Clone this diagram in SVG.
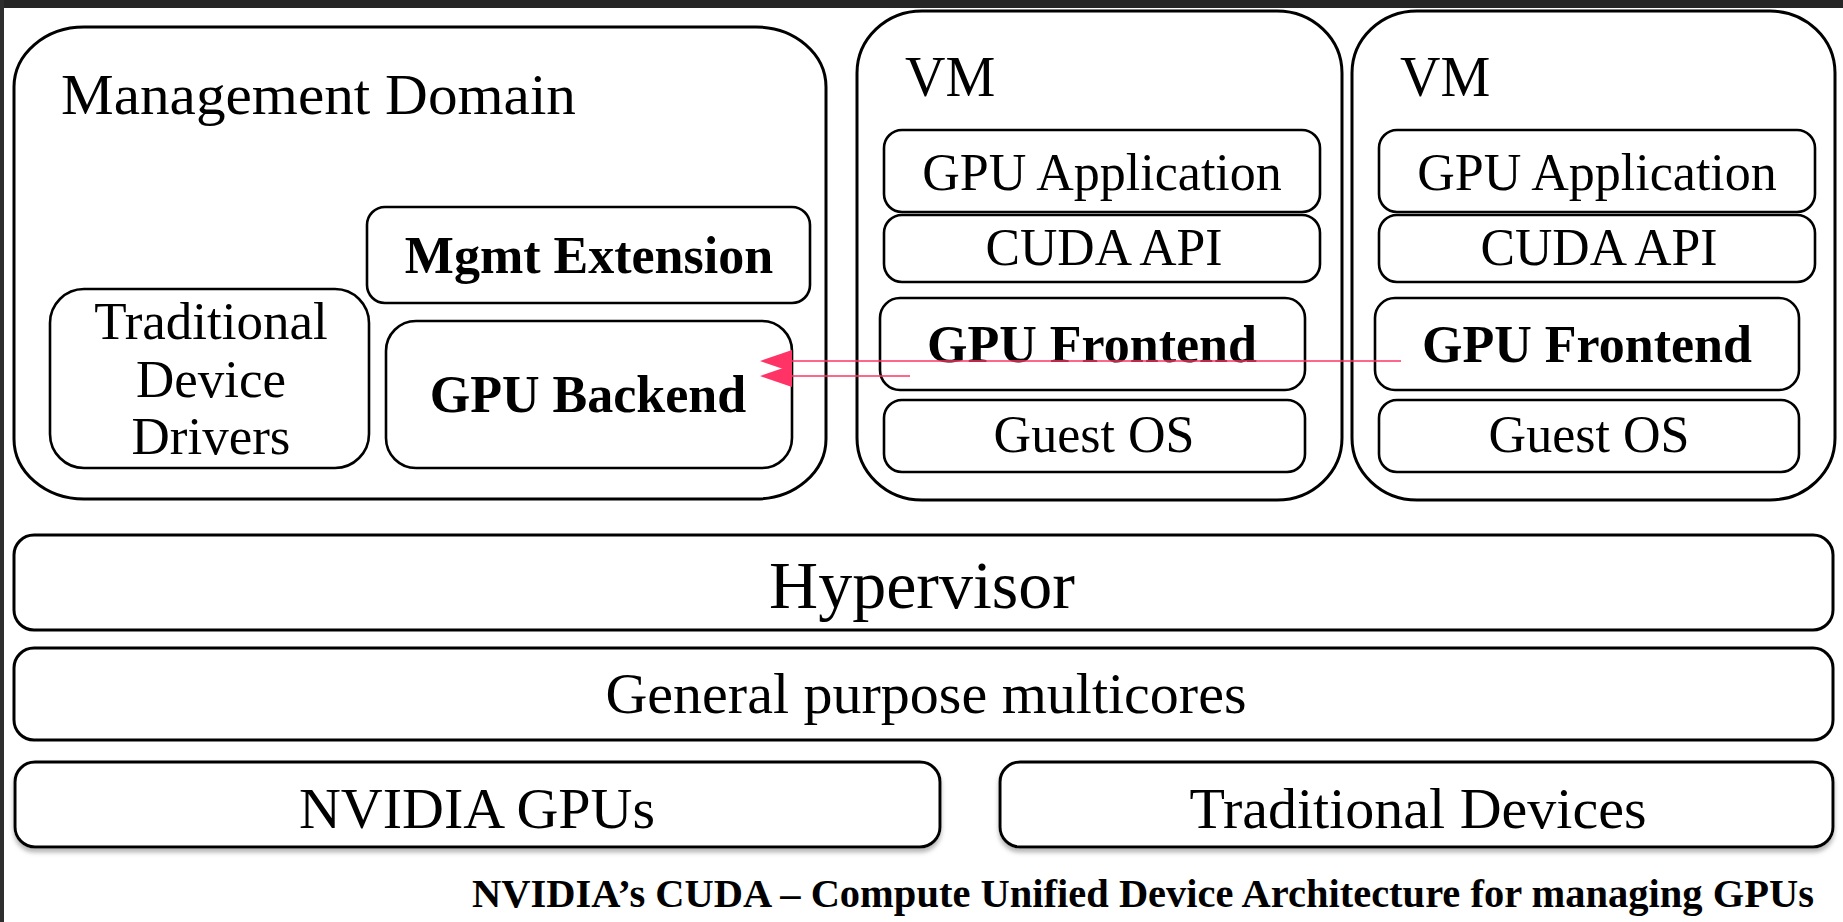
<svg xmlns="http://www.w3.org/2000/svg" width="1843" height="922" viewBox="0 0 1843 922">
  <defs>
    <style>
      .box { fill: #ffffff; stroke: #000000; stroke-width: 3; }
      .ibox { fill: #ffffff; stroke: #000000; stroke-width: 2.6; }
      .t { font-family: "Liberation Serif", "Times New Roman", serif; fill: #000000; }
      .b { font-weight: bold; }
      .c { text-anchor: middle; }
      .conn { stroke: #FF3366; stroke-width: 1.6; fill: none; }
    </style>
    <marker id="ah" viewBox="0 0 32 22" refX="0" refY="11" markerWidth="32" markerHeight="22" markerUnits="userSpaceOnUse" orient="auto">
      <path d="M0,0 L32,11 L0,22 Z" fill="#FF3366"/>
    </marker>
    <filter id="sh" x="-5%" y="-20%" width="110%" height="150%">
      <feDropShadow dx="0" dy="4" stdDeviation="2" flood-color="#888888" flood-opacity="0.6"/>
    </filter>
  </defs>

  <rect x="0" y="0" width="1843" height="922" fill="#ffffff"/>
  <rect x="0" y="0" width="1843" height="8" fill="#262626"/>
  <rect x="0" y="0" width="4" height="922" fill="#2e2e2e"/>

  <g id="management-domain">
    <rect class="box" x="14" y="27" width="812" height="472" rx="70" ry="60"/>
    <text class="t" x="61" y="114" font-size="57" textLength="515" lengthAdjust="spacingAndGlyphs">Management Domain</text>
  </g>

  <g id="mgmt-extension">
    <rect class="ibox" x="367" y="207" width="443" height="96" rx="18"/>
    <text class="t b c" x="589" y="273" font-size="52">Mgmt Extension</text>
  </g>

  <g id="traditional-device-drivers">
    <rect class="ibox" x="50" y="289" width="319" height="179" rx="34"/>
    <text class="t c" x="211" y="339" font-size="53">Traditional</text>
    <text class="t c" x="211" y="397" font-size="53">Device</text>
    <text class="t c" x="211" y="454" font-size="53">Drivers</text>
  </g>

  <g id="gpu-backend">
    <rect class="ibox" x="386" y="321" width="406" height="147" rx="30"/>
    <text class="t b c" x="588" y="412" font-size="52">GPU Backend</text>
  </g>

  <g id="vm1">
    <rect class="box" x="857" y="11" width="485" height="489" rx="65" ry="62"/>
    <text class="t" x="905" y="96" font-size="56">VM</text>
  </g>
  <g id="vm1-gpu-application">
    <rect class="ibox" x="884" y="130" width="436" height="82" rx="18"/>
    <text class="t c" x="1102" y="190" font-size="52">GPU Application</text>
  </g>
  <g id="vm1-cuda-api">
    <rect class="ibox" x="884" y="215" width="436" height="67" rx="18"/>
    <text class="t c" x="1104" y="265" font-size="52" textLength="237" lengthAdjust="spacingAndGlyphs">CUDA API</text>
  </g>
  <g id="vm1-gpu-frontend">
    <rect class="ibox" x="880" y="298" width="425" height="92" rx="20"/>
    <text class="t b c" x="1092" y="362" font-size="52">GPU Frontend</text>
  </g>
  <g id="vm1-guest-os">
    <rect class="ibox" x="884" y="400" width="421" height="72" rx="18"/>
    <text class="t c" x="1094" y="452" font-size="52">Guest OS</text>
  </g>

  <g id="vm2">
    <rect class="box" x="1352" y="11" width="483" height="489" rx="65" ry="62"/>
    <text class="t" x="1400" y="96" font-size="56">VM</text>
  </g>
  <g id="vm2-gpu-application">
    <rect class="ibox" x="1379" y="130" width="436" height="82" rx="18"/>
    <text class="t c" x="1597" y="190" font-size="52">GPU Application</text>
  </g>
  <g id="vm2-cuda-api">
    <rect class="ibox" x="1379" y="215" width="436" height="67" rx="18"/>
    <text class="t c" x="1599" y="265" font-size="52" textLength="237" lengthAdjust="spacingAndGlyphs">CUDA API</text>
  </g>
  <g id="vm2-gpu-frontend">
    <rect class="ibox" x="1375" y="298" width="424" height="92" rx="20"/>
    <text class="t b c" x="1587" y="362" font-size="52">GPU Frontend</text>
  </g>
  <g id="vm2-guest-os">
    <rect class="ibox" x="1379" y="400" width="420" height="72" rx="18"/>
    <text class="t c" x="1589" y="452" font-size="52">Guest OS</text>
  </g>

  <g id="hypervisor">
    <rect class="box" x="14" y="535" width="1819" height="95" rx="20"/>
    <text class="t c" x="922" y="608" font-size="68">Hypervisor</text>
  </g>

  <g id="general-purpose-multicores">
    <rect class="box" x="14" y="648" width="1819" height="92" rx="20"/>
    <text class="t c" x="926" y="713" font-size="58">General purpose multicores</text>
  </g>

  <g id="nvidia-gpus">
    <rect class="box" x="15" y="762" width="925" height="85" rx="20" filter="url(#sh)"/>
    <text class="t c" x="477" y="828" font-size="58">NVIDIA GPUs</text>
  </g>

  <g id="traditional-devices">
    <rect class="box" x="1000" y="762" width="833" height="85" rx="20" filter="url(#sh)"/>
    <text class="t c" x="1418" y="828" font-size="58">Traditional Devices</text>
  </g>

  <g id="connectors">
    <line class="conn" x1="1401" y1="361" x2="792" y2="361" marker-end="url(#ah)"/>
    <line class="conn" x1="910" y1="376" x2="792" y2="376" marker-end="url(#ah)"/>
  </g>

  <g id="caption">
    <text class="t b" x="472" y="907" font-size="39" textLength="1342" lengthAdjust="spacingAndGlyphs">NVIDIA’s CUDA – Compute Unified Device Architecture for managing GPUs</text>
  </g>
</svg>
